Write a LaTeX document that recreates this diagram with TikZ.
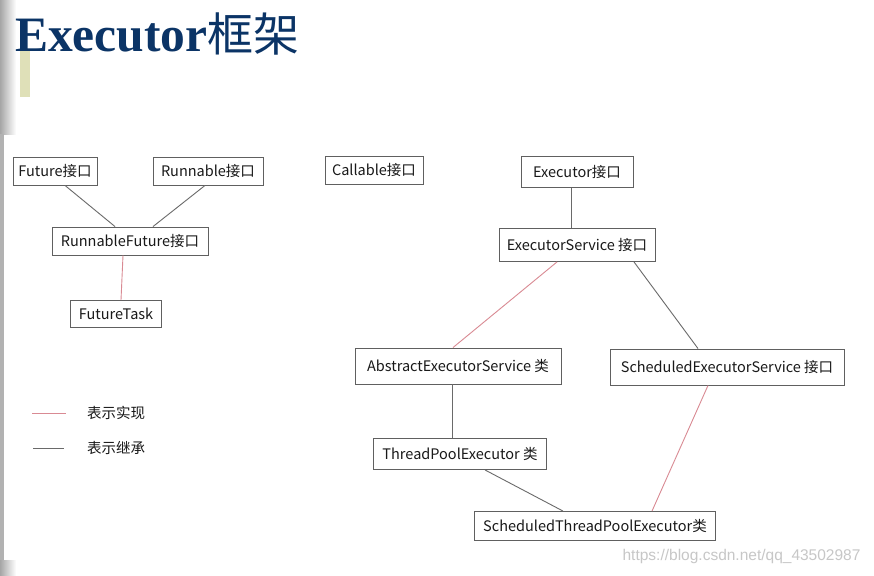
\documentclass[tikz,border=0pt]{standalone}
\usepackage{fontspec}
\setmainfont{Noto Sans CJK SC}
\newfontfamily\titlefont{Liberation Serif}
\newfontfamily\titlecjk{Noto Sans CJK SC}
\newfontfamily\markfont{Liberation Sans}
\usetikzlibrary{positioning}

\definecolor{titleblue}{HTML}{0B3466}
\definecolor{barolive}{HTML}{DFE0B8}
\definecolor{implred}{HTML}{D98A93}
\definecolor{inhgray}{HTML}{6A6A6A}
\definecolor{boxline}{HTML}{606060}

\begin{document}
\begin{tikzpicture}[
			x=1pt, y=-1pt,
			every node/.style={font=\fontsize{14.5}{16}\selectfont, text=black!90},
			box/.style={rectangle, draw=boxline, line width=0.9pt, align=center, minimum height=28pt, inner xsep=3pt},
			impl/.style={draw=implred, line width=0.9pt},
			inherit/.style={draw=inhgray, line width=0.9pt}
			]

			% page and margins
			\useasboundingbox (0,0) rectangle (874,575);
			\fill[white] (0,0) rectangle (874,575);
			\shade[left color=black!35, right color=white] (0,0) rectangle (16,134);
			\shade[left color=black!35, right color=white] (0,560) rectangle (16,575);
			\fill[black!30] (0,134) rectangle (4,560);
			\fill[barolive] (20,50) rectangle (30,97);

			% title
			\node[anchor=base west, inner sep=0pt, text=titleblue, font=\fontsize{49.5}{52}\selectfont] (title) at (15,52)
				{\titlefont\bfseries Executor\titlecjk\mdseries\fontsize{46}{50}\selectfont 框架};

			% interfaces and classes
			\node[box, minimum width=84pt] (future) at (55,171) {Future接口};
			\node[box, minimum width=110pt] (runnable) at (208,171) {Runnable接口};
			\node[box, minimum width=98pt] (callable) at (374,170) {Callable接口};
			\node[box, minimum width=112pt, minimum height=31pt] (executor) at (577,172) {Executor接口};
			\node[box, minimum width=156pt] (runfuture) at (130,241) {RunnableFuture接口};
			\node[box, minimum width=156pt, minimum height=33pt] (service) at (577,245) {ExecutorService 接口};
			\node[box, minimum width=91pt, minimum height=27pt] (futuretask) at (116,314) {FutureTask};
			\node[box, minimum width=206pt, minimum height=36pt] (abstract) at (458,366) {AbstractExecutorService 类};
			\node[box, minimum width=234pt, minimum height=36pt] (scheduled) at (727,367) {ScheduledExecutorService 接口};
			\node[box, minimum width=173pt, minimum height=31pt] (pool) at (460,454) {ThreadPoolExecutor 类};
			\node[box, minimum width=241pt, minimum height=29pt] (schedpool) at (595,526) {ScheduledThreadPoolExecutor类};

			% connectors
			\draw[inherit] ([xshift=10pt]future.south) -- ([xshift=-15pt]runfuture.north);
			\draw[inherit] ([xshift=-3pt]runnable.south) -- ([xshift=23pt]runfuture.north);
			\draw[impl] ([xshift=-7pt]runfuture.south) -- ([xshift=5pt]futuretask.north);
			\draw[inherit] ([xshift=-6pt]executor.south) -- ([xshift=-6pt]service.north);
			\draw[impl] ([xshift=-20pt]service.south) -- ([xshift=-5pt]abstract.north);
			\draw[inherit] ([xshift=57pt]service.south) -- ([xshift=-29pt]scheduled.north);
			\draw[inherit] ([xshift=-6pt]abstract.south) -- ([xshift=-8pt]pool.north);
			\draw[inherit] ([xshift=25pt]pool.south) -- ([xshift=-32pt]schedpool.north);
			\draw[impl] ([xshift=-19pt]scheduled.south) -- ([xshift=57pt]schedpool.north);

			% legend
			\coordinate (implA) at (32,413);
			\coordinate (implB) at (66,413);
			\coordinate (inhA) at (33,448);
			\coordinate (inhB) at (64,448);
			\draw[impl] (implA) -- (implB);
			\draw[inherit] (inhA) -- (inhB);
			\node[anchor=west, inner xsep=0pt, font=\fontsize{14.5}{16}\selectfont] (impltext) at (87,413) {表示实现};
			\node[anchor=west, inner xsep=0pt, font=\fontsize{14.5}{16}\selectfont] (inhtext) at (87,448) {表示继承};

			% watermark
			\node[anchor=east, text=black!22, font=\fontsize{15.5}{17}\selectfont\markfont] (mark) at (864,556) {https://blog.csdn.net/qq\_43502987};

		\end{tikzpicture}
\end{document}
